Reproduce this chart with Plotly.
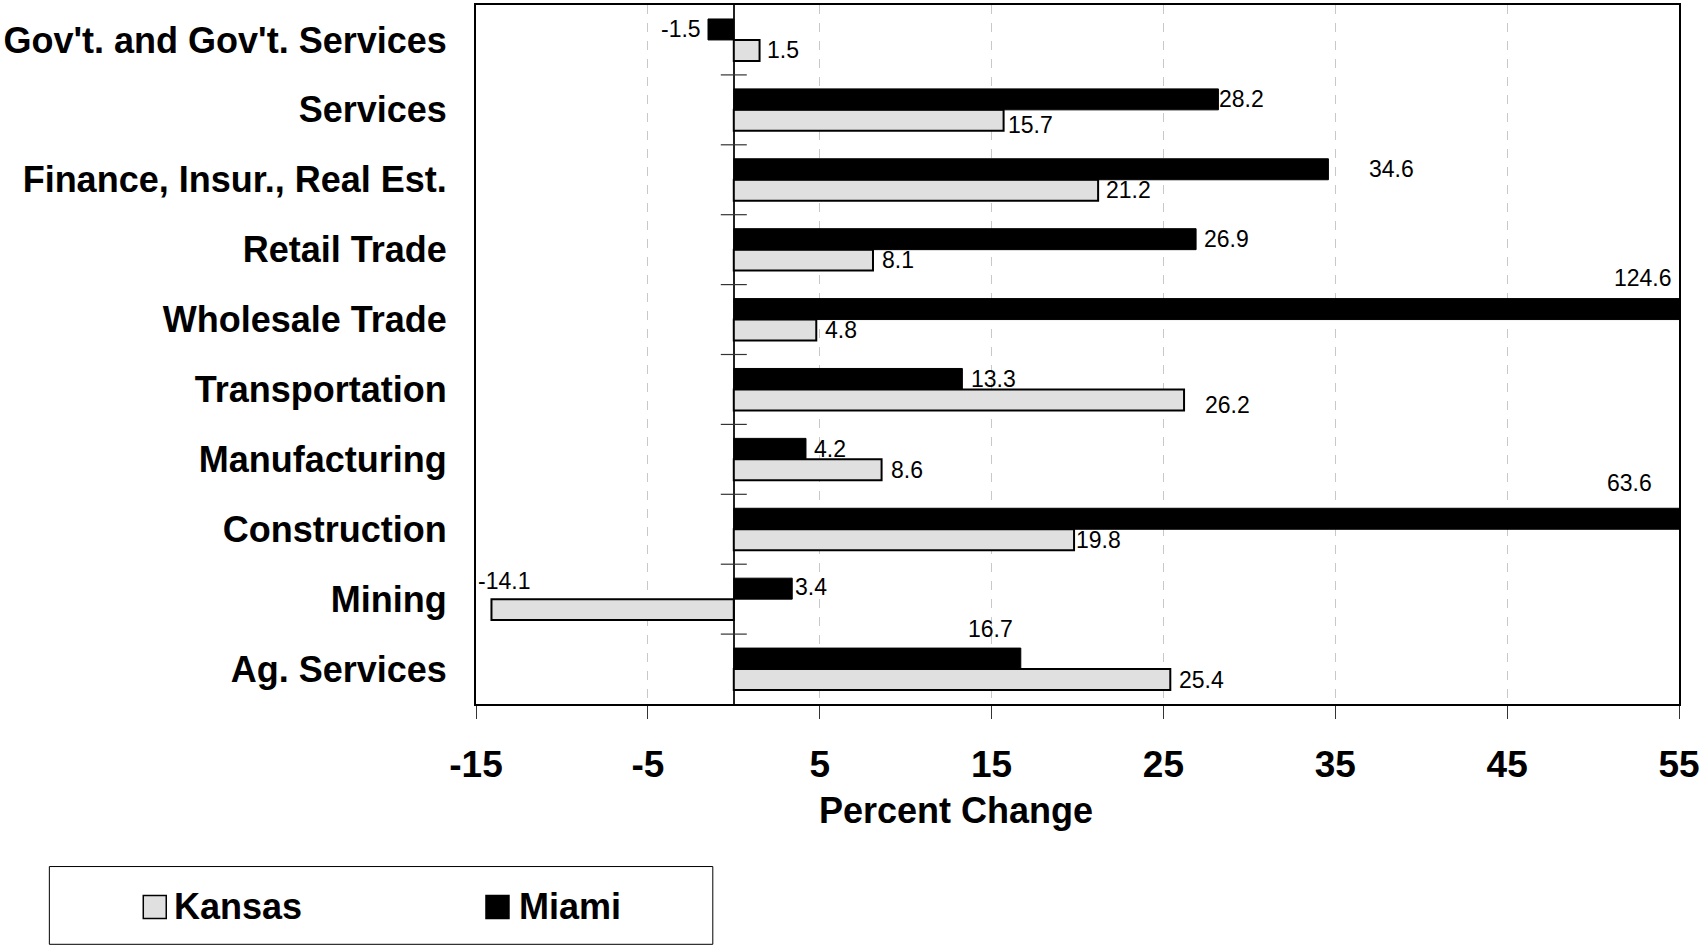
import plotly.graph_objects as go

# ---------------- data ----------------
categories = ["Ag. Services", "Mining", "Construction", "Manufacturing", "Transportation",
              "Wholesale Trade", "Retail Trade", "Finance, Insur., Real Est.", "Services",
              "Gov't. and Gov't. Services"]
kansas = [25.4, -14.1, 19.8, 8.6, 26.2, 4.8, 8.1, 21.2, 15.7, 1.5]
miami = [16.7, 3.4, 63.6, 4.2, 13.3, 124.6, 26.9, 34.6, 28.2, -1.5]
x_ticks = [-15, -5, 5, 15, 25, 35, 45, 55]
x_min, x_max = -15, 55

# label placement styles (anchor, pixel shift x, pixel shift y)
kansas_lbl = [("left", 7, 0), ("left", -15, 29), ("left", 0, 0), ("left", 7, 0), ("left", 19, -5),
              ("left", 7, 0), ("left", 7, 0), ("left", 6, 0), ("left", 2, -5), ("left", 5, 0)]
miami_lbl = [("center", -30, 30), ("left", 1, 2), ("right", -25, 36), ("left", 6, 0), ("left", 7, 0),
             ("right", -5, 31), ("left", 6, 0), ("left", 39, 0), ("left", -1, 0), ("right", -5, 0)]

FONT = "Liberation Sans, Arial, sans-serif"
W, H = 1703, 947
ML, MR, MT, MB = 476, 23, 3, 243
PW, PH = W - ML - MR, H - MT - MB


def px(x):
    return (x - ML) / PW


def py(y):
    return (H - MB - y) / PH


fig = go.Figure()
fig.add_trace(go.Bar(y=categories, x=kansas, orientation="h", name="Kansas",
                     marker=dict(color="#e0e0e0", line=dict(color="black", width=2)),
                     showlegend=False))
fig.add_trace(go.Bar(y=categories, x=miami, orientation="h", name="Miami",
                     marker=dict(color="black", line=dict(color="black", width=1)),
                     showlegend=False))

annotations = []
for series, styles, off in ((kansas, kansas_lbl, -0.15), (miami, miami_lbl, 0.15)):
    for i, (v, (anc, dx, dy)) in enumerate(zip(series, styles)):
        annotations.append(dict(
            x=min(v, x_max), y=i + off, xref="x", yref="y", text=f"{v:.1f}",
            showarrow=False, xanchor=anc, yanchor="middle", xshift=dx, yshift=dy,
            font=dict(family=FONT, size=23, color="black")))

# axis title
annotations.append(dict(x=px(956), y=py(811), xref="paper", yref="paper", text="<b>Percent Change</b>",
                        showarrow=False, xanchor="center", yanchor="middle",
                        font=dict(family=FONT, size=36, color="black")))

# legend (manual)
shapes = []
shapes.append(dict(type="rect", xref="paper", yref="paper", x0=px(49), x1=px(713), y0=py(867), y1=py(945),
                   line=dict(color="black", width=1), fillcolor="white"))
legend_items = [("Kansas", "#e0e0e0", 143, 172), ("Miami", "black", 486, 517)]
for name, col, sx, tx in legend_items:
    shapes.append(dict(type="rect", xref="paper", yref="paper", x0=px(sx), x1=px(sx + 23),
                       y0=py(896), y1=py(919), line=dict(color="black", width=1.5), fillcolor=col))
    annotations.append(dict(x=px(tx), y=py(907), xref="paper", yref="paper", text=f"<b>{name}</b>",
                            showarrow=False, xanchor="left", yanchor="middle",
                            font=dict(family=FONT, size=36, color="black")))

# category boundary tick marks crossing the zero line
for i in range(len(categories) - 1):
    shapes.append(dict(type="line", xref="x", yref="y", xsizemode="pixel", xanchor=0,
                       x0=-13, x1=13, y0=i + 0.5, y1=i + 0.5,
                       line=dict(color="#333333", width=1.2)))

fig.update_layout(
    width=W, height=H,
    margin=dict(l=ML, r=MR, t=MT, b=MB),
    paper_bgcolor="white", plot_bgcolor="white",
    barmode="group", bargap=0.4, bargroupgap=0,
    annotations=annotations, shapes=shapes,
    showlegend=False,
    font=dict(family=FONT, color="black"),
)
fig.update_xaxes(range=[x_min, x_max], tickvals=x_ticks, ticktext=[str(t) for t in x_ticks],
                 tickfont=dict(family=FONT, size=37, color="black", weight="bold"),
                 showgrid=True, gridcolor="#c8c8c8", griddash="dash", gridwidth=1,
                 zeroline=True, zerolinecolor="#222222", zerolinewidth=1.5,
                 showline=True, linecolor="black", linewidth=2, mirror=True,
                 ticks="outside", ticklen=13, tickcolor="#333333", tickwidth=1,
                 ticklabelstandoff=14)
fig.update_yaxes(categoryorder="array", categoryarray=categories,
                 tickfont=dict(family=FONT, size=36, color="black", weight="bold"),
                 showgrid=False, showline=True, linecolor="black", linewidth=2, mirror=True,
                 ticks="", ticklabelstandoff=20)

fig.write_html("out.html")
